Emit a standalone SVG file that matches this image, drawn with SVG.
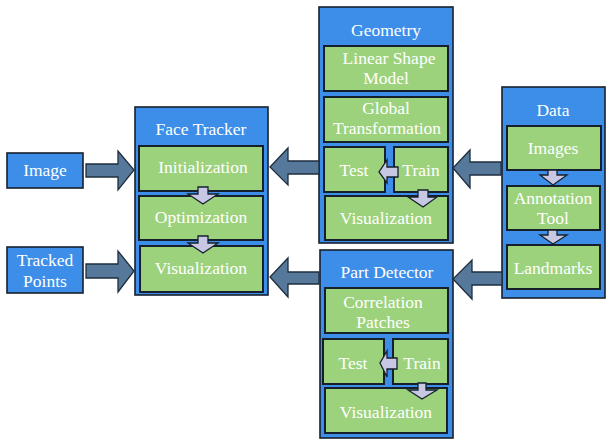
<svg xmlns="http://www.w3.org/2000/svg" width="615" height="447" viewBox="0 0 615 447" font-family="'Liberation Serif', 'DejaVu Serif', serif">
<defs>
<style>
.outer{fill:#3D8EE8;stroke:#16202c;stroke-width:1.6}
.inner{fill:#9DD27C;stroke:#16202c;stroke-width:2}
.big{fill:#56799B;stroke:#1e2e3e;stroke-width:1.3;stroke-linejoin:miter}
.small{fill:#C8C8E4;stroke:#16202c;stroke-width:1.3}
.t{font-family:'Liberation Serif','DejaVu Serif',serif;font-size:17.5px;fill:#ffffff;text-anchor:middle}
</style>
</defs>
<rect width="615" height="447" fill="#ffffff"/>

<g id="image">
<rect class="outer" x="7" y="153" width="76" height="35"/>
<text class="t" x="45" y="176">Image</text>
</g>

<g id="tracked-points">
<rect class="outer" x="7" y="247" width="76" height="46"/>
<text class="t" x="45" y="266">Tracked</text>
<text class="t" x="45" y="287">Points</text>
</g>

<g id="face-tracker">
<rect class="outer" x="135" y="107" width="133" height="188"/>
<text class="t" x="201" y="135">Face Tracker</text>
<g id="ft-initialization"><rect class="inner" x="139" y="146" width="124" height="45"/><text class="t" x="203" y="173">Initialization</text></g>
<g id="ft-optimization"><rect class="inner" x="139" y="196" width="124" height="44"/><text class="t" x="201" y="223">Optimization</text></g>
<g id="ft-visualization"><rect class="inner" x="140" y="246" width="123" height="46"/><text class="t" x="201" y="274">Visualization</text></g>
</g>

<g id="geometry">
<rect class="outer" x="319" y="7" width="134" height="236"/>
<text class="t" x="386" y="36">Geometry</text>
<g id="geo-linear-shape-model"><rect class="inner" x="324" y="46" width="124" height="45"/><text class="t" x="389" y="64">Linear Shape</text><text class="t" x="386" y="84">Model</text></g>
<g id="geo-global-transformation"><rect class="inner" x="324" y="97" width="124" height="45"/><text class="t" x="386" y="114">Global</text><text class="t" x="387" y="134">Transformation</text></g>
<g id="geo-test"><rect class="inner" x="324" y="147" width="61" height="45"/><text class="t" x="354" y="176">Test</text></g>
<g id="geo-train"><rect class="inner" x="394" y="147" width="54" height="45"/><text class="t" x="421" y="176">Train</text></g>
<g id="geo-visualization"><rect class="inner" x="325" y="196" width="123" height="44"/><text class="t" x="386" y="224">Visualization</text></g>
</g>

<g id="data">
<rect class="outer" x="502" y="87" width="103" height="211"/>
<text class="t" x="553" y="116">Data</text>
<g id="data-images"><rect class="inner" x="507" y="126" width="94" height="44"/><text class="t" x="553" y="154">Images</text></g>
<g id="data-annotation-tool"><rect class="inner" x="507" y="186" width="93" height="44"/><text class="t" x="553" y="204">Annotation</text><text class="t" x="553" y="224">Tool</text></g>
<g id="data-landmarks"><rect class="inner" x="507" y="245" width="93" height="44"/><text class="t" x="553" y="274">Landmarks</text></g>
</g>

<g id="part-detector">
<rect class="outer" x="320" y="250" width="133" height="188"/>
<text class="t" x="387" y="278">Part Detector</text>
<g id="pd-correlation-patches"><rect class="inner" x="325" y="288" width="123" height="45"/><text class="t" x="383" y="308">Correlation</text><text class="t" x="383" y="328">Patches</text></g>
<g id="pd-test"><rect class="inner" x="323" y="339" width="61" height="45"/><text class="t" x="353" y="369">Test</text></g>
<g id="pd-train"><rect class="inner" x="393" y="339" width="55" height="45"/><text class="t" x="422" y="369">Train</text></g>
<g id="pd-visualization"><rect class="inner" x="325" y="388" width="122" height="45"/><text class="t" x="386" y="418">Visualization</text></g>
</g>

<g id="connectors">
<polygon class="big" points="86,164 118,164 118,151 134,170 118,190 118,177 86,177"/>
<polygon class="big" points="86,264 118,264 118,251 134,271 118,292 118,278 86,278"/>
<polygon class="big" points="319,161 288,161 288,148 270,167 288,185 288,174 319,174"/>
<polygon class="big" points="501,162 470,162 470,150 453,168 470,188 470,175 501,175"/>
<polygon class="big" points="319,272 288,272 288,258 270,277 288,297 288,284 319,284"/>
<polygon class="big" points="502,272 472,272 472,260 453,279 472,299 472,285 502,285"/>

<polygon class="small" points="198,187 208,187 208,194 218,194 203,204 188,194 198,194"/>
<polygon class="small" points="198,236 208,236 208,243 218,243 203,253 188,243 198,243"/>
<polygon class="small" points="548,170 557,170 557,175 567,175 553,185 540,175 548,175"/>
<polygon class="small" points="548,230 557,230 557,235 567,235 553,244 540,235 548,235"/>
<polygon class="small" points="398,167 387,167 387,160 379,172 387,183 387,177 398,177"/>
<polygon class="small" points="418,190 428,190 428,197 437,197 423,207 408,197 418,197"/>
<polygon class="small" points="397,358 387,358 387,351 380,363 387,377 387,369 397,369"/>
<polygon class="small" points="418,383 426,383 426,390 437,390 422,399 408,390 418,390"/>
</g>
</svg>
